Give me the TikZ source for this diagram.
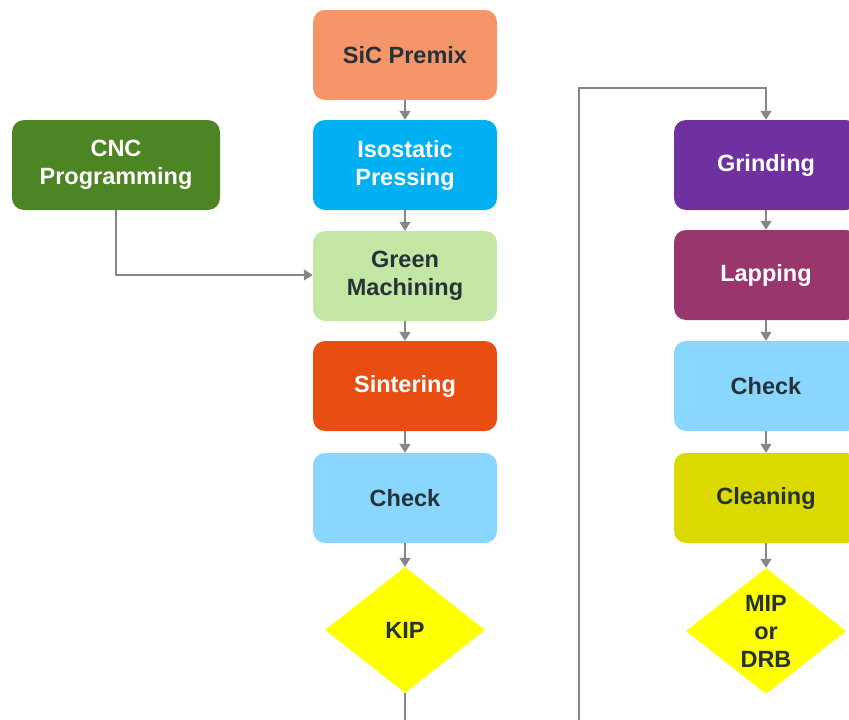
\documentclass[tikz,border=0pt]{standalone}
\usepackage{fontspec}
\setmainfont{Liberation Sans}
\usetikzlibrary{shapes.geometric,arrows.meta}
\definecolor{salmon}{HTML}{F4956A}
\definecolor{isoblue}{HTML}{00B0F0}
\definecolor{cncgreen}{HTML}{4E8524}
\definecolor{lightgreen}{HTML}{C3E6A4}
\definecolor{sinter}{HTML}{E84E12}
\definecolor{checkblue}{HTML}{89D7FE}
\definecolor{grindpurple}{HTML}{7031A0}
\definecolor{lapping}{HTML}{98366E}
\definecolor{cleanyellow}{HTML}{DADA00}
\definecolor{pureyellow}{RGB}{255,255,0}
\definecolor{darktext}{HTML}{263238}
\definecolor{linegray}{HTML}{868686}
\tikzset{
  stepbox/.style={rectangle, rounded corners=12pt, minimum width=184pt, minimum height=90pt,
    inner sep=0pt, align=center, font=\fontsize{23.5}{28}\selectfont\bfseries},
  decision/.style={diamond, fill=pureyellow, minimum width=160pt, minimum height=126pt, inner sep=0pt,
    shape aspect=1.27, align=center, text=darktext, font=\fontsize{23.5}{28}\selectfont\bfseries},
  conn/.style={draw=linegray, line width=1.3pt},
  arr/.style={conn, -{Triangle[length=9pt,width=11pt]}}
}
\begin{document}
\begin{tikzpicture}[x=1pt,y=-1pt]
\useasboundingbox (0,0) rectangle (849,720);
% left column
\node[stepbox, fill=salmon, text=darktext] (sic) at (405,55) {SiC Premix};
\node[stepbox, fill=isoblue, text=white] (iso) at (405,165) {Isostatic\\Pressing};
\node[stepbox, fill=lightgreen, text=darktext] (green) at (405,276) {Green\\Machining};
\node[stepbox, fill=sinter, text=white] (sint) at (405,386) {Sintering};
\node[stepbox, fill=checkblue, text=darktext] (check1) at (405,498) {Check};
\node[decision] (kip) at (405,630) {KIP};
% CNC
\node[stepbox, fill=cncgreen, text=white, minimum width=208pt] (cnc) at (116,165) {CNC\\Programming};
% right column
\node[stepbox, fill=grindpurple, text=white] (grind) at (766,165) {Grinding};
\node[stepbox, fill=lapping, text=white] (lap) at (766,275) {Lapping};
\node[stepbox, fill=checkblue, text=darktext] (check2) at (766,386) {Check};
\node[stepbox, fill=cleanyellow, text=darktext] (clean) at (766,498) {Cleaning};
\node[decision] (mip) at (766,631) {MIP\\or\\DRB};
% coordinates
\coordinate (kipend) at (405,722);
\coordinate (loopbot) at (579,722);
\coordinate (looptop) at (579,88);
\coordinate (loopright) at (766,88);
\coordinate (cncturn) at (116,275);
% connectors
\draw[arr] (sic) -- (iso);
\draw[arr] (iso) -- (green);
\draw[arr] (green) -- (sint);
\draw[arr] (sint) -- (check1);
\draw[arr] (check1) -- (kip);
\draw[conn] (kip.south) -- (kipend);
\draw[arr] (loopbot) -- (looptop) -- (loopright) -- (grind.north);
\draw[arr] (cnc.south) -- (cncturn) -- (green.west |- cncturn);
\draw[arr] (grind) -- (lap);
\draw[arr] (lap) -- (check2);
\draw[arr] (check2) -- (clean);
\draw[arr] (clean) -- (mip);
\end{tikzpicture}
\end{document}
